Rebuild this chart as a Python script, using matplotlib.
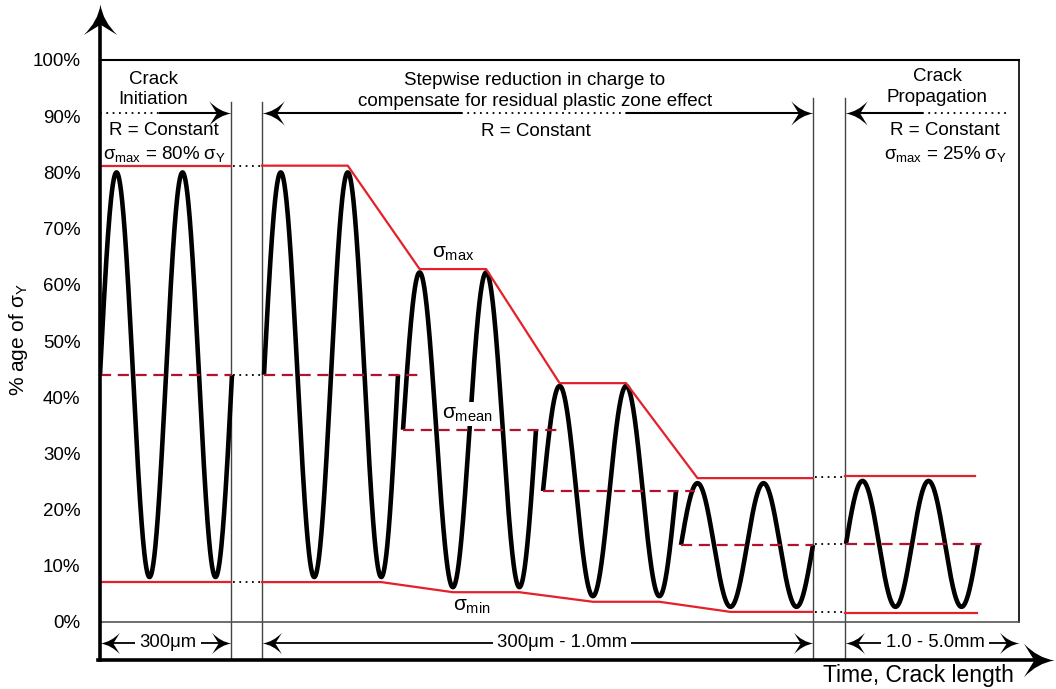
import matplotlib.pyplot as plt
import numpy as np
from matplotlib.path import Path

plt.rcParams['font.family'] = ['Liberation Sans', 'DejaVu Sans']
plt.rcParams['mathtext.fontset'] = 'custom'
plt.rcParams['mathtext.rm'] = 'Liberation Sans'
plt.rcParams['mathtext.it'] = 'Liberation Sans'

# loading blocks: two sine cycles each (x in time units, y in % of yield stress)
seg_start = [100, 264, 403, 543, 681, 846]
seg_end = [232, 398, 536, 676, 813, 978]
seg_mean = [44.0, 44.0, 34.2, 23.3, 13.7, 13.9]
seg_amp = [36.0, 36.0, 28.0, 18.7, 11.0, 11.2]
mean_line_end = [232, 423, 562, 695, 813, 983]
env_max = [81.2, 81.2, 62.8, 42.5, 25.6, 26.0]
env_min = [7.1, 7.1, 5.3, 3.6, 1.8, 1.6]

separators = [231, 262, 813, 845]
y_ticks = list(range(0, 101, 10))
tick_labels = [f'{v}%' for v in y_ticks]

RED = '#e3202b'
DARKRED = '#b3122e'

fig = plt.figure(figsize=(10.56, 6.89), dpi=100)
ax = fig.add_axes([100 / 1056, (689 - 622) / 689, 919 / 1056, 562 / 689])
ax.set_xlim(100, 1019)
ax.set_ylim(0, 100)
ax.set_xticks([])
ax.set_yticks(y_ticks)
ax.set_yticklabels(tick_labels, fontsize=13.5)
ax.tick_params(axis='y', length=0, pad=14)
ax.spines['left'].set_visible(False)
ax.spines['top'].set_linewidth(1.5)
ax.spines['right'].set_linewidth(1.2)
ax.spines['bottom'].set_linewidth(1.2)
ax.spines['bottom'].set_color('#555555')

Y_AX = -6.76


def head(x, y, angle, ms=32, color='k'):
    verts = np.array([(0, 0), (-0.55, 0.08), (-1, 0.55), (-0.66, 0),
                      (-1, -0.55), (-0.55, -0.08), (0, 0), (0, 0)])
    codes = [Path.MOVETO, Path.CURVE3, Path.CURVE3, Path.LINETO,
             Path.LINETO, Path.CURVE3, Path.CURVE3, Path.CLOSEPOLY]
    t = np.deg2rad(angle)
    rot = np.array([[np.cos(t), -np.sin(t)], [np.sin(t), np.cos(t)]])
    p = Path(verts @ rot.T, codes)
    ax.plot([x], [y], marker=p, markersize=ms, color=color, mew=0,
            linestyle='none', clip_on=False, zorder=6)


def line(xs, ys, **kw):
    kw.setdefault('clip_on', False)
    ax.plot(xs, ys, **kw)


# axes with arrows
line([100, 100], [Y_AX, 107.0], color='k', lw=2.6, zorder=5)
head(100, 110.0, 90, ms=44)
line([98, 1040], [Y_AX, Y_AX], color='k', lw=2.6, zorder=5)
head(1054, Y_AX, 0, ms=44)

# separators
for i, sx in enumerate(separators):
    top = 92.5 if i < 2 else 93.2
    line([sx, sx], [Y_AX, top], color='#444444', lw=1.0, zorder=2)

# waves and mean lines
peaks, troughs = [], []
for s, e, m, a, me in zip(seg_start, seg_end, seg_mean, seg_amp, mean_line_end):
    P = (e - s) / 2
    x = np.linspace(s, e, 400)
    ax.plot(x, m + a * np.sin(2 * np.pi * (x - s) / P), color='k', lw=3.3,
            solid_capstyle='butt', zorder=3)
    ax.plot([s, me], [m, m], color=DARKRED, lw=1.6, ls=(0, (5, 3)), zorder=4)
    peaks.append((s + P / 4, s + 5 * P / 4))
    troughs.append((s + 3 * P / 4, s + 7 * P / 4))

# envelopes
for lev in (env_max[0], env_min[0]):
    ax.plot([100, 231], [lev, lev], color=RED, lw=1.6, zorder=4)
ax.plot([845, 975], [env_max[5], env_max[5]], color=RED, lw=1.6, zorder=4)
ax.plot([845, 977], [env_min[5], env_min[5]], color=RED, lw=1.6, zorder=4)

mx, my = [262], [env_max[1]]
nx, ny = [262], [env_min[1]]
for k in range(1, 5):
    mx += [peaks[k][0], peaks[k][1]] if k > 1 else [peaks[k][1]]
    my += [env_max[k], env_max[k]] if k > 1 else [env_max[k]]
    nx += [troughs[k][0], troughs[k][1]] if k > 1 else [troughs[k][1]]
    ny += [env_min[k], env_min[k]] if k > 1 else [env_min[k]]
mx[-1], nx[-1] = 813, 813
ax.plot(mx, my, color=RED, lw=1.6, zorder=4)
ax.plot(nx, ny, color=RED, lw=1.6, zorder=4)

# dotted links across the gaps
for lev in (env_max[0], seg_mean[0], env_min[0]):
    ax.plot([233, 261], [lev, lev], color='k', lw=1.3, ls=(0, (1, 2.5)), zorder=4)
for a, b in ((env_max[4], env_max[5]), (seg_mean[4], seg_mean[5]), (env_min[4], env_min[5])):
    ax.plot([815, 844], [(a + b) / 2] * 2, color='k', lw=1.3, ls=(0, (1, 2.5)), zorder=4)

# header arrows
YA = 90.6
dot = dict(color='k', lw=1.3, ls=(0, (1, 2.5)))
line([100, 160], [YA, YA], **dot)
line([160, 222], [YA, YA], color='k', lw=1.5)
head(231, YA, 0)
line([271, 461], [YA, YA], color='k', lw=1.5)
line([461, 627], [YA, YA], **dot)
line([627, 804], [YA, YA], color='k', lw=1.5)
head(262, YA, 180)
head(813, YA, 0)
line([854, 922], [YA, YA], color='k', lw=1.5)
line([922, 1008], [YA, YA], **dot)
head(845, YA, 180)

tk = dict(ha='center', va='center', fontsize=13.5)
ax.text(153, 96.6, 'Crack', **tk)
ax.text(153, 92.9, 'Initiation', **tk)
ax.text(164, 87.4, 'R = Constant', **tk)
ax.text(164, 83.3, r'$\sigma_{\mathrm{max}}$ = 80% $\sigma_{\mathrm{Y}}$', **tk)
ax.text(535, 96.4, 'Stepwise reduction in charge to', **tk)
ax.text(535, 92.7, 'compensate for residual plastic zone effect', **tk)
ax.text(536, 87.2, 'R = Constant', **tk)
ax.text(937, 97.0, 'Crack', **tk)
ax.text(937, 93.3, 'Propagation', **tk)
ax.text(945, 87.4, 'R = Constant', **tk)
ax.text(945, 83.3, r'$\sigma_{\mathrm{max}}$ = 25% $\sigma_{\mathrm{Y}}$', **tk)

# stress labels
box = dict(facecolor='white', edgecolor='none', pad=1.5)
ax.text(453, 65.5, r'$\sigma_{\mathrm{max}}$', ha='center', va='center', fontsize=15, zorder=7)
ax.text(467, 37.0, r'$\sigma_{\mathrm{mean}}$', ha='center', va='center', fontsize=15,
        bbox=box, zorder=7)
ax.text(472, 2.7, r'$\sigma_{\mathrm{min}}$', ha='center', va='center', fontsize=15, zorder=7)

# bottom dimension arrows
YD = -3.7
dims = [(100, 231, 168, '300μm'), (262, 813, 562, '300μm - 1.0mm'),
        (845, 1019, 935, '1.0 - 5.0mm')]
for a, b, c, lab in dims:
    line([a + 8, b - 8], [YD, YD], color='k', lw=1.3, zorder=4)
    head(a, YD, 180, ms=28)
    head(b, YD, 0, ms=28)
    ax.text(c, YD, lab, ha='center', va='center', fontsize=13.3, zorder=7,
            bbox=dict(facecolor='white', edgecolor='none', pad=3))

ax.text(918, -9.6, 'Time, Crack length', ha='center', va='center', fontsize=16.5)
ax.text(19, 50.2, r'% age of $\sigma_{\mathrm{Y}}$', ha='center', va='center',
        rotation=90, fontsize=15)

fig.savefig('out.png', dpi=100)
